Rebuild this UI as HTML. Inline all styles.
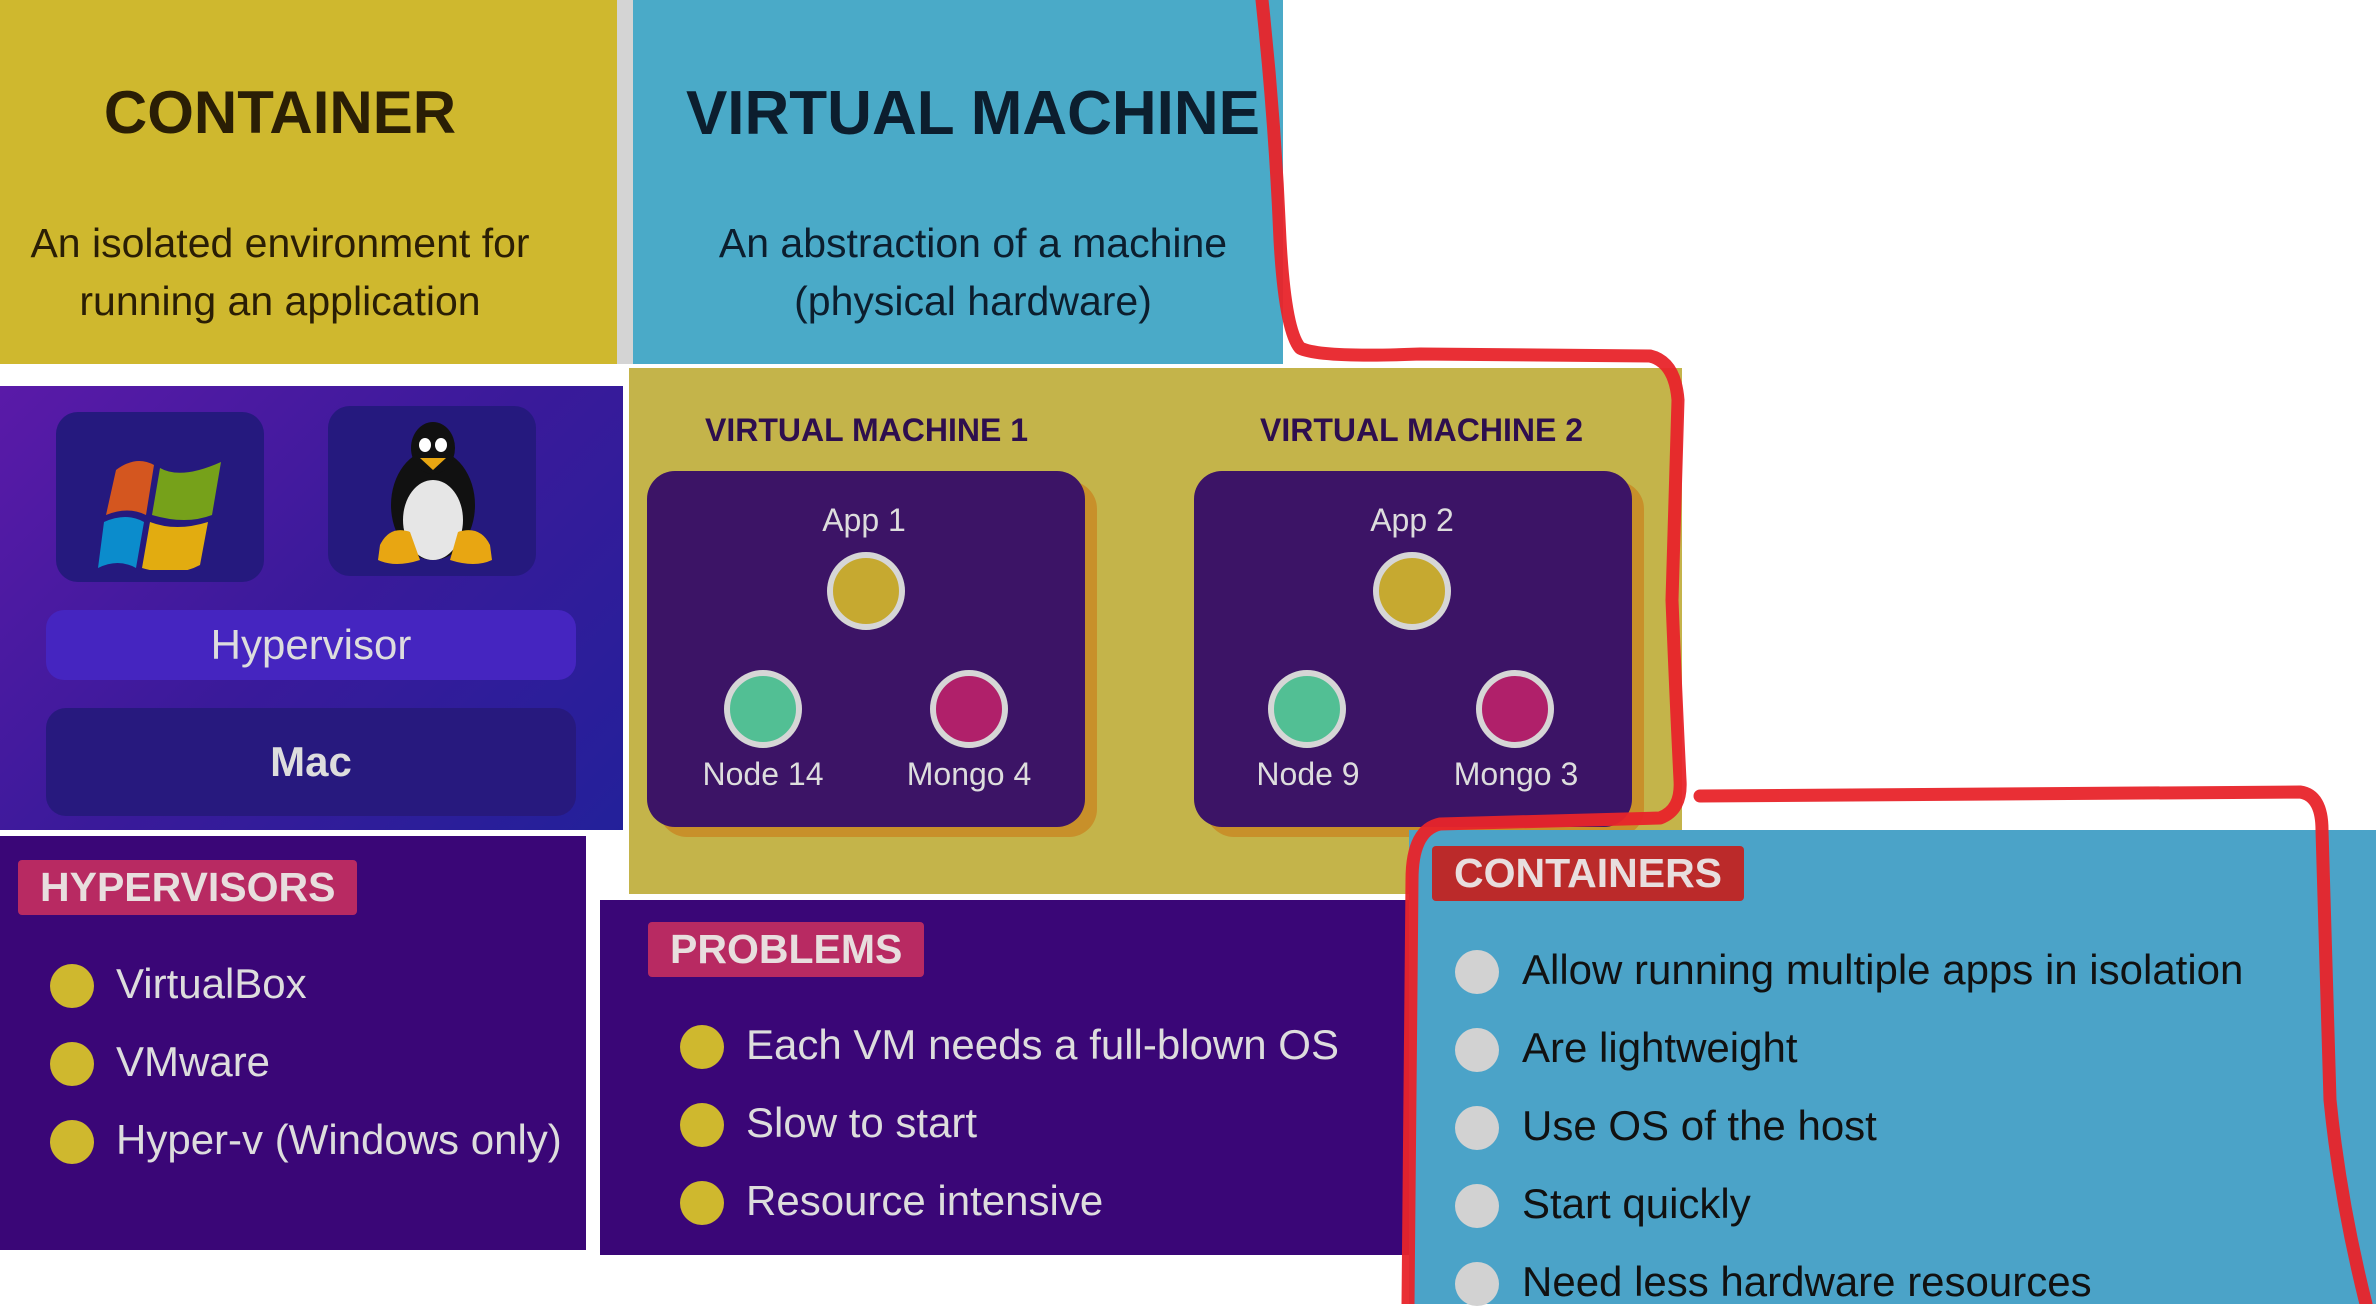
<!DOCTYPE html>
<html><head><meta charset="utf-8"><style>
*{margin:0;padding:0;box-sizing:border-box}
body{width:2376px;height:1304px;background:#fff;position:relative;overflow:hidden;font-family:"Liberation Sans",sans-serif}
.a{position:absolute}
.c{text-align:center}
.dot{position:absolute;width:44px;height:44px;border-radius:50%}
.li{position:absolute;font-size:42px;white-space:nowrap}
.tag{position:absolute;font-weight:bold;font-size:41px;color:#e8dede;padding:4px 22px;border-radius:4px}
.circ{position:absolute;width:78px;height:78px;border-radius:50%;border:6px solid #d6d6d6}
.lbl{position:absolute;color:#ddd;font-size:32px;text-align:center;width:200px}
</style></head><body>
<div class="a" style="left:0;top:0;width:617px;height:364px;background:#cfb82e"></div>
<div class="a" style="left:617px;top:0;width:16px;height:364px;background:#d4d4d4"></div>
<div class="a" style="left:633px;top:0;width:650px;height:364px;background:#4aaac8"></div>
<div class="a c" style="left:0;top:78px;width:560px;font-size:60px;font-weight:bold;color:#2a1e05">CONTAINER</div>
<div class="a c" style="left:0;top:214px;width:560px;font-size:41px;line-height:58px;color:#2a1e05;white-space:nowrap">An isolated environment for<br>running an application</div>
<div class="a c" style="left:663px;top:78px;width:620px;font-size:62px;font-weight:bold;color:#0c1e2e;white-space:nowrap">VIRTUAL MACHINE</div>
<div class="a c" style="left:663px;top:214px;width:620px;font-size:41px;line-height:58px;color:#0c1e2e">An abstraction of a machine<br>(physical hardware)</div>

<div class="a" style="left:0;top:386px;width:623px;height:444px;background:linear-gradient(135deg,#5a1aa8,#3a1a9a 50%,#23209a)"></div>
<div class="a" style="left:56px;top:412px;width:208px;height:170px;border-radius:22px;background:#25197e"></div>
<div class="a" style="left:328px;top:406px;width:208px;height:170px;border-radius:22px;background:#25197e"></div>
<svg class="a" style="left:96px;top:440px" width="130" height="130" viewBox="0 0 130 130">
<path d="M20 30 Q40 15 58 25 L50 75 Q32 66 10 75Z" fill="#d4561f"/>
<path d="M64 28 Q85 40 125 22 L116 75 Q90 85 56 75Z" fill="#76a11a"/>
<path d="M8 82 Q30 72 48 82 L40 128 Q22 118 2 128Z" fill="#0b8ccc"/>
<path d="M54 82 Q80 92 112 82 L104 125 Q80 138 46 128Z" fill="#e2ac10"/>
</svg>
<svg class="a" style="left:370px;top:420px" width="130" height="150" viewBox="0 0 130 150">
<ellipse cx="63" cy="85" rx="42" ry="55" fill="#111"/>
<ellipse cx="63" cy="100" rx="30" ry="40" fill="#e6e6e6"/>
<ellipse cx="63" cy="28" rx="22" ry="26" fill="#111"/>
<ellipse cx="55" cy="25" rx="6" ry="7" fill="#fff"/><ellipse cx="71" cy="25" rx="6" ry="7" fill="#fff"/>
<path d="M50 38 L76 38 L63 50Z" fill="#e8a612"/>
<path d="M10 125 Q20 105 40 112 L50 140 Q25 148 8 140Z" fill="#e8a612"/>
<path d="M120 125 Q110 105 88 112 L80 140 Q105 148 122 140Z" fill="#e8a612"/>
</svg>
<div class="a c" style="left:46px;top:610px;width:530px;height:70px;border-radius:18px;background:#4525c0;color:#ddd;font-size:42px;line-height:70px">Hypervisor</div>
<div class="a c" style="left:46px;top:708px;width:530px;height:108px;border-radius:20px;background:#27197e;color:#ddd;font-size:42px;font-weight:bold;line-height:108px">Mac</div>

<div class="a" style="left:629px;top:368px;width:1053px;height:526px;background:#c4b44a"></div>
<div class="a" style="left:705px;top:412px;font-size:32px;font-weight:bold;color:#2e0f4e">VIRTUAL MACHINE 1</div>
<div class="a" style="left:1260px;top:412px;font-size:32px;font-weight:bold;color:#2e0f4e">VIRTUAL MACHINE 2</div>
<div class="a" style="left:659px;top:481px;width:438px;height:356px;border-radius:28px;background:#c8902a"></div>
<div class="a" style="left:647px;top:471px;width:438px;height:356px;border-radius:28px;background:#3c1466"></div>
<div class="a" style="left:1206px;top:481px;width:438px;height:356px;border-radius:28px;background:#c8902a"></div>
<div class="a" style="left:1194px;top:471px;width:438px;height:356px;border-radius:28px;background:#3c1466"></div>
<div class="lbl" style="left:764px;top:502px">App 1</div>
<div class="circ" style="left:827px;top:552px;background:#c6a930"></div>
<div class="circ" style="left:724px;top:670px;background:#52bf94"></div>
<div class="circ" style="left:930px;top:670px;background:#b0206a"></div>
<div class="lbl" style="left:663px;top:756px">Node 14</div>
<div class="lbl" style="left:869px;top:756px">Mongo 4</div>
<div class="lbl" style="left:1312px;top:502px">App 2</div>
<div class="circ" style="left:1373px;top:552px;background:#c6a930"></div>
<div class="circ" style="left:1268px;top:670px;background:#52bf94"></div>
<div class="circ" style="left:1476px;top:670px;background:#b0206a"></div>
<div class="lbl" style="left:1208px;top:756px">Node 9</div>
<div class="lbl" style="left:1416px;top:756px">Mongo 3</div>

<div class="a" style="left:0;top:836px;width:586px;height:414px;background:#3a0677"></div>
<div class="tag" style="left:18px;top:860px;background:#b82a62">HYPERVISORS</div>
<div class="dot" style="left:50px;top:964px;background:#cfb82e"></div><div class="li" style="left:116px;top:960px;color:#ddd">VirtualBox</div>
<div class="dot" style="left:50px;top:1042px;background:#cfb82e"></div><div class="li" style="left:116px;top:1038px;color:#ddd">VMware</div>
<div class="dot" style="left:50px;top:1120px;background:#cfb82e"></div><div class="li" style="left:116px;top:1116px;color:#ddd">Hyper-v (Windows only)</div>

<div class="a" style="left:600px;top:900px;width:820px;height:355px;background:#3a0677"></div>
<div class="tag" style="left:648px;top:922px;background:#b82a62">PROBLEMS</div>
<div class="dot" style="left:680px;top:1025px;background:#cfb82e"></div><div class="li" style="left:746px;top:1021px;color:#ddd">Each VM needs a full-blown OS</div>
<div class="dot" style="left:680px;top:1103px;background:#cfb82e"></div><div class="li" style="left:746px;top:1099px;color:#ddd">Slow to start</div>
<div class="dot" style="left:680px;top:1181px;background:#cfb82e"></div><div class="li" style="left:746px;top:1177px;color:#ddd">Resource intensive</div>

<div class="a" style="left:1409px;top:830px;width:967px;height:474px;background:#4ba3c8"></div>
<div class="tag" style="left:1432px;top:846px;background:#bb2a2a">CONTAINERS</div>
<div class="dot" style="left:1455px;top:950px;background:#d2d2d2"></div><div class="li" style="left:1522px;top:946px;color:#111">Allow running multiple apps in isolation</div>
<div class="dot" style="left:1455px;top:1028px;background:#d2d2d2"></div><div class="li" style="left:1522px;top:1024px;color:#111">Are lightweight</div>
<div class="dot" style="left:1455px;top:1106px;background:#d2d2d2"></div><div class="li" style="left:1522px;top:1102px;color:#111">Use OS of the host</div>
<div class="dot" style="left:1455px;top:1184px;background:#d2d2d2"></div><div class="li" style="left:1522px;top:1180px;color:#111">Start quickly</div>
<div class="dot" style="left:1455px;top:1262px;background:#d2d2d2"></div><div class="li" style="left:1522px;top:1258px;color:#111">Need less hardware resources</div>

<svg class="a" style="left:0;top:0" width="2376" height="1304">
<g fill="none" stroke="#e8242a" stroke-width="13" stroke-linejoin="round" stroke-linecap="round" opacity="0.95">
<path d="M1262 0 Q1275 120 1280 240 Q1285 330 1300 348 Q1320 358 1420 354 L1650 356 Q1675 362 1678 400 L1672 600 Q1676 700 1680 780 Q1682 810 1660 818 L1440 824 Q1412 830 1412 880 L1408 1304"/>
<path d="M1700 796 L2300 792 Q2322 795 2322 830 L2330 1100 Q2340 1200 2366 1304"/>
</g></svg>
</body></html>
